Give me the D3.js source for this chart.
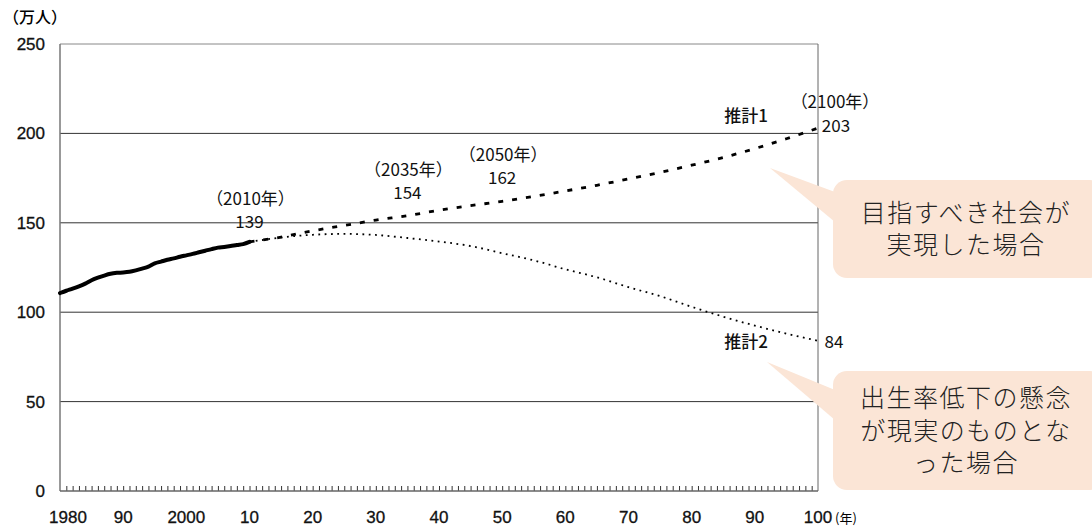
<!DOCTYPE html>
<html>
<head>
<meta charset="utf-8">
<script src="https://cdn.jsdelivr.net/npm/d3@7"></script>
<style>
  body { margin: 0; background: #fff; }
  svg { display: block; font-family: "Liberation Sans", "Noto Sans CJK JP", sans-serif; }
</style>
</head>
<body>
<div id="chart"></div>
<script>
// 実績 1980-2010
const actualYears = d3.range(1980, 2011);
const actualValues = [110.7, 112.0, 113.2, 114.5, 116.0, 117.9, 119.3, 120.5, 121.5, 122.0,
  122.2, 122.6, 123.4, 124.4, 125.5, 127.3, 128.3, 129.3, 130.1, 131.0,
  131.8, 132.6, 133.5, 134.4, 135.3, 136.1, 136.5, 137.0, 137.6, 138.1, 139.3];

// 推計 2010-2100 (5年ごと)
const projYears = d3.range(2010, 2101, 5);
const proj1Values = [139.3, 142.0, 145.5, 148.5, 151.5, 154.0, 157.0, 159.6, 162.0, 164.8,
  167.8, 171.0, 174.5, 178.2, 182.2, 186.5, 191.5, 197.0, 203.0];
const proj2Values = [139.3, 141.8, 143.3, 143.8, 143.2, 141.5, 139.5, 137.0, 133.0, 129.0,
  124.0, 119.5, 114.0, 109.0, 103.0, 97.5, 92.5, 88.0, 84.0];

const yTicks = [0, 50, 100, 150, 200, 250];
const xTickYears = [1980, 1990, 2000, 2010, 2020, 2030, 2040, 2050, 2060, 2070, 2080, 2090, 2100];
const xTickLabels = ['1980', '90', '2000', '10', '20', '30', '40', '50', '60', '70', '80', '90', '100'];

const notes = [
  { year: 2010, value: 139, label: '（2010年）', num: '139', dy: -37 },
  { year: 2035, value: 154, label: '（2035年）', num: '154', dy: -40 },
  { year: 2050, value: 162, label: '（2050年）', num: '162', dy: -40 }
];
const callouts = [
  { lines: ['目指すべき社会が', '実現した場合'], top: 180, bottom: 278, tip: [770, 168], base: [192, 222] },
  { lines: ['出生率低下の懸念', 'が現実のものとな', 'った場合'], top: 371, bottom: 490, tip: [767, 362], base: [390, 420] }
];

const width = 1092, height = 529;
const margin = { left: 60, right: 274, top: 44, bottom: 38 };

const svg = d3.select('#chart').append('svg')
  .attr('width', width)
  .attr('height', height);

const x = d3.scaleLinear()
  .domain([1980, 2100])
  .range([margin.left, width - margin.right]);

const y = d3.scaleLinear()
  .domain([0, 250])
  .range([height - margin.bottom, margin.top]);

// grid lines
svg.append('g')
  .selectAll('line')
  .data(yTicks.filter((d) => d > 0))
  .join('line')
  .attr('x1', x(1980))
  .attr('x2', x(2100))
  .attr('y1', (d) => y(d))
  .attr('y2', (d) => y(d))
  .attr('stroke', (d) => (d === 250 ? '#888' : '#333'))
  .attr('stroke-width', 1);

// frame sides
svg.append('line')
  .attr('x1', x(1980)).attr('x2', x(1980))
  .attr('y1', y(250)).attr('y2', y(0))
  .attr('stroke', '#777').attr('stroke-width', 1.5);
svg.append('line')
  .attr('x1', x(2100)).attr('x2', x(2100))
  .attr('y1', y(250)).attr('y2', y(0))
  .attr('stroke', '#666').attr('stroke-width', 1);

// y axis labels
svg.append('g')
  .selectAll('text')
  .data(yTicks)
  .join('text')
  .attr('x', 45)
  .attr('y', (d) => y(d) + 6)
  .attr('text-anchor', 'end')
  .attr('font-size', 17)
  .attr('fill', '#111')
  .attr('stroke', '#111')
  .attr('stroke-width', 0.3)
  .text((d) => d);

svg.append('text')
  .attr('x', 3).attr('y', 23)
  .attr('font-size', 16)
  .attr('font-family', 'Noto Sans CJK JP')
  .attr('font-weight', 500)
  .text('（万人）');

// x axis: yearly minor ticks pointing up
const xAxis = svg.append('g')
  .attr('transform', `translate(0,${y(0)})`)
  .call(d3.axisTop(x).tickValues(d3.range(1981, 2100)).tickSize(5).tickFormat(''));
xAxis.select('.domain').remove();
xAxis.selectAll('line').attr('stroke', '#333').attr('stroke-width', 1);

svg.append('line')
  .attr('x1', x(1980)).attr('x2', x(2100))
  .attr('y1', y(0)).attr('y2', y(0))
  .attr('stroke', '#666').attr('stroke-width', 1.5);

svg.append('g')
  .selectAll('text')
  .data(xTickYears)
  .join('text')
  .attr('x', (d, i) => x(d) + (i === 0 ? 8 : 0))
  .attr('y', 523)
  .attr('text-anchor', 'middle')
  .attr('font-size', 17)
  .attr('fill', '#111')
  .attr('stroke', '#111')
  .attr('stroke-width', 0.3)
  .text((d, i) => xTickLabels[i]);

svg.append('text')
  .attr('x', x(2100) + 17).attr('y', 523)
  .attr('font-size', 13)
  .attr('font-family', 'Noto Sans CJK JP')
  .text('(年)');

// lines
const line = d3.line()
  .x((d) => x(d[0]))
  .y((d) => y(d[1]))
  .curve(d3.curveMonotoneX);

svg.append('path')
  .datum(projYears.map((yr, i) => [yr, proj2Values[i]]))
  .attr('d', line)
  .attr('fill', 'none')
  .attr('stroke', '#000')
  .attr('stroke-width', 1.8)
  .attr('stroke-dasharray', '1.8 4.5');

svg.append('path')
  .datum(projYears.map((yr, i) => [yr, proj1Values[i]]))
  .attr('d', line)
  .attr('fill', 'none')
  .attr('stroke', '#000')
  .attr('stroke-width', 2.8)
  .attr('stroke-dasharray', '5 9');

svg.append('path')
  .datum(actualYears.map((yr, i) => [yr, actualValues[i]]))
  .attr('d', line)
  .attr('fill', 'none')
  .attr('stroke', '#000')
  .attr('stroke-width', 4)
  .attr('stroke-linecap', 'round');

// point annotations
const noteG = svg.append('g')
  .attr('font-size', 17)
  .attr('font-family', 'Noto Sans CJK JP')
  .attr('fill', '#111')
  .attr('text-anchor', 'middle');

notes.forEach((n) => {
  noteG.append('text')
    .attr('x', x(n.year) + 1)
    .attr('y', y(n.value) + n.dy)
    .text(n.label);
  noteG.append('text')
    .attr('x', x(n.year))
    .attr('y', y(n.value) + n.dy + 23)
    .text(n.num);
});

noteG.append('text').attr('x', x(2100) + 17).attr('y', 108).text('（2100年）');
noteG.append('text').attr('x', x(2100) + 18).attr('y', 132).text('203');
noteG.append('text').attr('x', x(2100) + 16).attr('y', 348).text('84');
noteG.append('text').attr('x', 746).attr('y', 122).attr('font-weight', 500).text('推計1');
noteG.append('text').attr('x', 746).attr('y', 348).attr('font-weight', 500).text('推計2');

// callouts
const boxLeft = 833, boxRight = 1104;
callouts.forEach((c) => {
  const g = svg.append('g');
  g.append('rect')
    .attr('x', boxLeft)
    .attr('y', c.top)
    .attr('width', boxRight - boxLeft)
    .attr('height', c.bottom - c.top)
    .attr('rx', 14)
    .attr('fill', '#fbe5d6');
  g.append('path')
    .attr('d', `M${c.tip[0]},${c.tip[1]}L${boxLeft + 2},${c.base[0]}L${boxLeft + 2},${c.base[1]}Z`)
    .attr('fill', '#fbe5d6');
  const cx = 966;
  const lh = 32.5;
  const totalH = lh * (c.lines.length - 1);
  const mid = (c.top + c.bottom) / 2;
  g.selectAll('text')
    .data(c.lines)
    .join('text')
    .attr('x', cx)
    .attr('y', (d, i) => mid - totalH / 2 + i * lh + 9)
    .attr('text-anchor', 'middle')
    .attr('font-family', 'Noto Sans CJK JP')
    .attr('font-weight', 300)
    .attr('font-size', 25)
    .attr('letter-spacing', 1.5)
    .attr('fill', '#222')
    .text((d) => d);
});
</script>
</body>
</html>
